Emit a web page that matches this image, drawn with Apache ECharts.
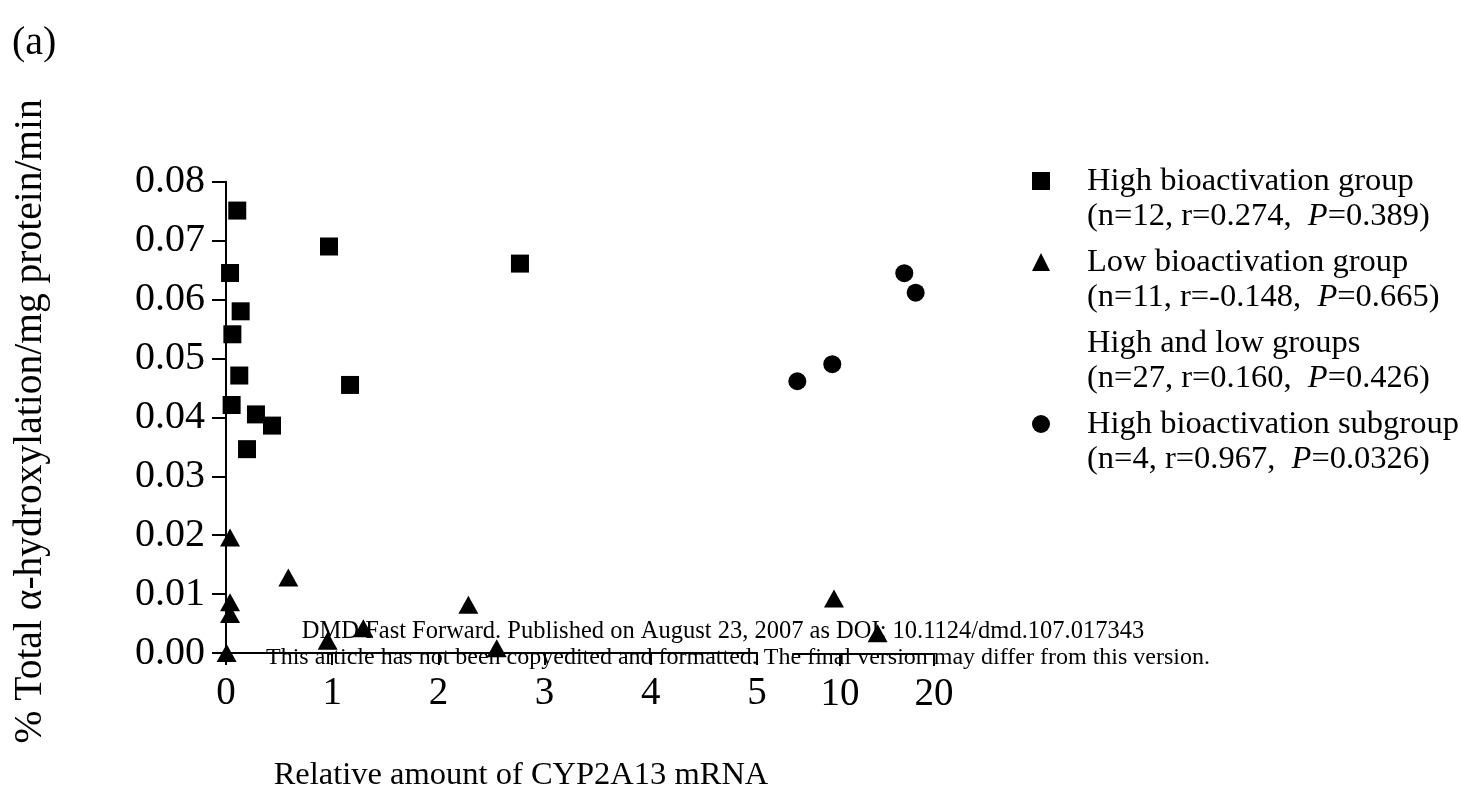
<!DOCTYPE html>
<html>
<head>
<meta charset="utf-8">
<script src="https://cdn.jsdelivr.net/npm/echarts@6/dist/echarts.min.js"></script>
<style>
  html, body { margin: 0; padding: 0; background: #fff; }
  #chart { width: 1461px; height: 797px; }
</style>
</head>
<body>
<div id="chart"></div>
<script>
// ---- data ----
const highX = [0.106, 0.970, 2.768, 0.038, 0.138, 0.060, 0.125, 1.168, 0.053, 0.282, 0.433, 0.198];
const highY = [0.0751, 0.0690, 0.0661, 0.0645, 0.0580, 0.0541, 0.0471, 0.0455, 0.0421, 0.0405, 0.0386, 0.0346];

const lowX = [0.038, 0.587, 0.038, 0.038, 0.006, 0.957, 1.293, 2.282, 2.549, 9.36, 14.0];
const lowY = [0.0196, 0.0128, 0.0086, 0.0066, 0.0000, 0.0021, 0.0042, 0.0082, 0.0008, 0.0094, 0.0035];

const subX = [5.46, 9.18, 16.84, 18.05];
const subY = [0.0462, 0.0491, 0.0645, 0.0612];

const xTicksLeft = [0, 1, 2, 3, 4, 5];
const xTicksRight = [10, 20];
const breakAt = 5;

const legendNames = ['High bioactivation group', 'Low bioactivation group', 'High and low groups', 'High bioactivation subgroup'];
const legendStats = [
  ['12', '0.274', '0.389'],
  ['11', '-0.148', '0.665'],
  ['27', '0.160', '0.426'],
  ['4', '0.967', '0.0326']
];

const yTitle = '% Total \u03b1-hydroxylation/mg protein/min';
const xTitle = 'Relative amount of CYP2A13 mRNA';
const watermark1 = 'DMD Fast Forward. Published on August 23, 2007 as DOI: 10.1124/dmd.107.017343';
const watermark2 = 'This article has not been copyedited and formatted. The final version may differ from this version.';

// ---- build ----
const FONT = '"Times New Roman", "Liberation Serif", serif';
const pairs = (xs, ys) => xs.map((x, i) => [x, ys[i]]);
const lowPts = pairs(lowX, lowY);
const lowLeft = lowPts.filter(p => p[0] <= breakAt);
const lowRight = lowPts.filter(p => p[0] > breakAt);

const axisLineStyle = { color: '#000', width: 2 };
const markStyle = { color: '#000', opacity: 1 };
const chart = echarts.init(document.getElementById('chart'), null, { renderer: 'canvas' });

const option = {
  backgroundColor: '#fff',
  animation: false,
  title: {
    text: '(a)', left: 12, top: 23, padding: 0,
    textStyle: { fontFamily: FONT, fontSize: 40, fontWeight: 'normal', color: '#000' }
  },
  grid: [
    { left: 226, top: 181.7, width: 531, height: 472.3 },
    { left: 793, top: 181.7, width: 141, height: 472.3 }
  ],
  xAxis: [
    {
      gridIndex: 0, type: 'value', min: 0, max: 5, interval: 1,
      axisLine: { show: true, lineStyle: axisLineStyle },
      axisTick: { show: true, inside: false, length: 12, lineStyle: axisLineStyle },
      axisLabel: { show: true, margin: 21, fontFamily: FONT, fontSize: 39, color: '#000',
        customValues: xTicksLeft },
      splitLine: { show: false },
      name: xTitle, nameLocation: 'middle', nameGap: 106,
      nameTextStyle: { fontFamily: FONT, fontSize: 32.5, color: '#000', padding: [0, 0, 0, 59] }
    },
    {
      gridIndex: 1, type: 'value', min: 5, max: 20, interval: 5,
      axisLine: { show: true, lineStyle: axisLineStyle },
      axisTick: { show: true, inside: false, length: 12, lineStyle: axisLineStyle, customValues: xTicksRight },
      axisLabel: { show: true, margin: 21, fontFamily: FONT, fontSize: 39, color: '#000',
        customValues: xTicksRight },
      splitLine: { show: false }
    }
  ],
  yAxis: [
    {
      gridIndex: 0, type: 'value', min: 0, max: 0.08, interval: 0.01,
      axisLine: { show: true, lineStyle: axisLineStyle },
      axisTick: { show: true, inside: false, length: 14, lineStyle: axisLineStyle },
      axisLabel: { show: true, margin: 21, fontFamily: FONT, fontSize: 40, color: '#000',
        formatter: v => v.toFixed(2) },
      splitLine: { show: false },
      name: yTitle, nameLocation: 'middle', nameGap: 175,
      nameTextStyle: { fontFamily: FONT, fontSize: 39.5, color: '#000', padding: [0, 8, 0, 0] }
    },
    {
      gridIndex: 1, type: 'value', min: 0, max: 0.08, interval: 0.01, show: false
    }
  ],
  legend: {
    orient: 'vertical', left: 1032, top: 128.5, padding: 0,
    itemWidth: 18, itemHeight: 18, itemGap: -24,
    data: legendNames,
    selectedMode: false,
    formatter: name => {
      const i = legendNames.indexOf(name);
      const s = legendStats[i];
      return '{sp| }{t|' + name + '}\n{sp| }{t|(n=' + s[0] + ', r=' + s[1] + ',  }{it|P}{t|=' + s[2] + ')}';
    },
    textStyle: {
      fontFamily: FONT, fontSize: 32.5, lineHeight: 35, color: '#000',
      padding: [35, 0, 0, 0],
      rich: {
        sp: { width: 32, fontSize: 32.5, lineHeight: 35 },
        t: { fontFamily: FONT, fontSize: 32.5, lineHeight: 35, color: '#000' },
        it: { fontFamily: FONT, fontSize: 32.5, lineHeight: 35, color: '#000', fontStyle: 'italic' }
      }
    }
  },
  graphic: [
    { type: 'text', z: 1, style: { x: 723, y: 632, text: watermark1, textAlign: 'center', textVerticalAlign: 'middle',
      font: '24.5px ' + FONT, fill: '#000' } },
    { type: 'text', z: 1, style: { x: 738, y: 658, text: watermark2, textAlign: 'center', textVerticalAlign: 'middle',
      font: '24px ' + FONT, fill: '#000' } }
  ],
  series: [
    { name: legendNames[0], type: 'scatter', xAxisIndex: 0, yAxisIndex: 0, symbol: 'rect', symbolSize: 18,
      itemStyle: markStyle, data: pairs(highX, highY), clip: false },
    { name: legendNames[1], type: 'scatter', xAxisIndex: 0, yAxisIndex: 0, symbol: 'triangle', symbolSize: [20, 18],
      itemStyle: markStyle, data: lowLeft, clip: false },
    { name: legendNames[1], type: 'scatter', xAxisIndex: 1, yAxisIndex: 1, symbol: 'triangle', symbolSize: [20, 18],
      itemStyle: markStyle, data: lowRight, clip: false },
    { name: legendNames[2], type: 'scatter', xAxisIndex: 0, yAxisIndex: 0, symbol: 'rect',
      itemStyle: { color: 'rgba(0,0,0,0)' }, data: [] },
    { name: legendNames[3], type: 'scatter', xAxisIndex: 1, yAxisIndex: 1, symbol: 'circle', symbolSize: 18,
      itemStyle: markStyle, data: pairs(subX, subY), clip: false }
  ]
};
chart.setOption(option);
</script>
</body>
</html>
